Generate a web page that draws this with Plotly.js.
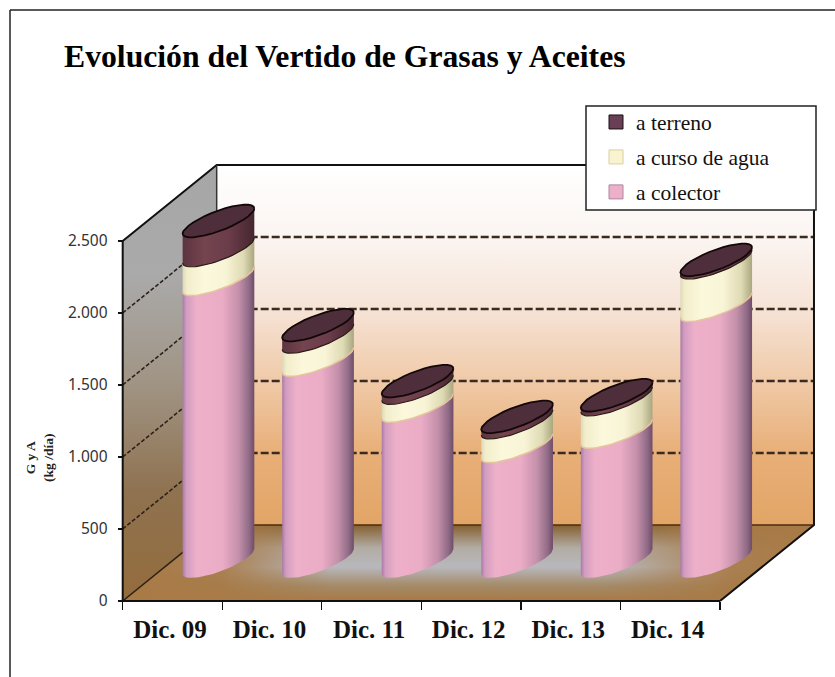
<!DOCTYPE html>
<html>
<head>
<meta charset="utf-8">
<script src="https://cdn.plot.ly/plotly-3.0.1.min.js"></script>
<style>html,body{margin:0;padding:0;background:#fff}#chart{width:835px;height:677px}</style>
</head>
<body>
<div id="chart"></div>
<script>
const categories = ['Dic. 09','Dic. 10','Dic. 11','Dic. 12','Dic. 13','Dic. 14'];
const colector = [1960, 1400, 1080, 800, 900, 1780];
const curso = [200, 160, 125, 165, 225, 295];
const terreno = [205, 82, 48, 40, 30, 20];
const yTicks = [0, 500, 1000, 1500, 2000, 2500];
const seriesNames = ['a terreno', 'a curso de agua', 'a colector'];

const W = 835, H = 677;
const axL = 122.7, axR = 720, axT = 241, axB = 601;
const PX_X = (axR - axL) / categories.length, PX_Y = (axB - axT) / 2500;
const DEPTH_X = 0.944, DEPTH_Y = 528;   // depth vector of the oblique projection, in axis units
const BAR_DX = 0.462, BAR_BASE = 274, RX = 0.36, SHEAR = 87, RY = 73;

const traces = [];
const NOHOVER = {hoverinfo: 'skip', showlegend: false};

function poly(pts, fillgradient, line) {
  const t = Object.assign({
    x: pts.map(p => p[0]), y: pts.map(p => p[1]),
    mode: 'lines', fill: 'toself',
    line: line || {width: 0, color: 'rgba(0,0,0,0)'}
  }, NOHOVER);
  if (typeof fillgradient === 'string') t.fillcolor = fillgradient;
  else t.fillgradient = fillgradient;
  traces.push(t);
}
function seg(pts, line) {
  traces.push(Object.assign({x: pts.map(p => p[0]), y: pts.map(p => p[1]), mode: 'lines', line}, NOHOVER));
}
const P = (x, v, d) => [x + d * DEPTH_X, v + d * DEPTH_Y];
const N = categories.length, TOP = yTicks[yTicks.length - 1];

// ---- walls and floor
poly([P(0,0,1),P(N,0,1),P(N,TOP,1),P(0,TOP,1),P(0,0,1)], {type:'vertical', colorscale:[
  [0,'#e2a566'],[0.2,'#e8af78'],[0.4,'#f0caa8'],[0.6,'#f6e3d6'],[0.8,'#fbf5f2'],[1,'#ffffff']]});
poly([P(0,0,0),P(0,TOP,0),P(0,TOP,1),P(0,0,1),P(0,0,0)], {type:'vertical', colorscale:[
  [0,'#946c3c'],[0.25,'#8f7250'],[0.5,'#a09484'],[0.75,'#aaaaaa'],[1,'#a6a6a6']]});
poly([P(0,0,0),P(N,0,0),P(N,0,1),P(0,0,1),P(0,0,0)], {type:'vertical', colorscale:[
  [0,'#a97a45'],[0.2,'#a48a68'],[0.45,'#b8b8bc'],[0.7,'#b2aca4'],[1,'#84602f']]});
poly([P(0,0,0),P(N,0,0),P(N,0,1),P(0,0,1),P(0,0,0)], {type:'horizontal', colorscale:[
  [0,'rgba(168,122,70,1)'],[0.14,'rgba(168,122,70,0.9)'],[0.3,'rgba(168,122,70,0)'],
  [0.7,'rgba(168,122,70,0)'],[0.88,'rgba(168,122,70,0.9)'],[1,'rgba(168,122,70,1)']]});

// ---- gridlines
yTicks.slice(1, -1).forEach(v => seg([P(0,v,1),P(N,v,1)], {color:'#3a2a20', width:2.5, dash:'8px,3px'}));
yTicks.slice(0, -1).forEach(v => seg([P(0,v,0),P(0,v,1)], {color:'#2c2018', width:1.6, dash: v === 0 ? 'solid' : '4px,2px'}));
seg([P(0,0,1),P(N,0,1)], {color:'#4a2c10', width:1.5});
seg([P(0,TOP,0),P(0,TOP,1),P(N,TOP,1),P(N,0,1),P(N,0,0)], {color:'#111', width:2});
seg([P(0,0,1),P(0,TOP,1)], {color:'#333', width:1.5});
seg([P(0,TOP,0),P(0,0,0),P(N,0,0)], {color:'#111', width:2});

// ---- cylinders
const SHADE_COLECTOR = [[0,'#a979a8'],[0.05,'#d19cc0'],[0.2,'#eeb0c8'],[0.55,'#ebacc6'],[0.78,'#c490aa'],[0.93,'#8f6a86'],[1,'#6f4c68']];
const SHADE_CURSO = [[0,'#ddd8b8'],[0.06,'#f2eecb'],[0.3,'#fbf8dc'],[0.6,'#f8f4d6'],[0.85,'#dedab4'],[1,'#aaa680']];
const SHADE_TERRENO = [[0,'#5c3440'],[0.3,'#74444f'],[0.65,'#6a3c4a'],[1,'#45262f']];

function arc(i, v, t0, t1) {
  const cx = i + 0.5 + BAR_DX, base = BAR_BASE, out = [];
  for (let k = 0; k <= 32; k++) {
    const t = t0 + (t1 - t0) * k / 32;
    out.push([cx + RX * Math.cos(t), base + v + SHEAR * Math.cos(t) + RY * Math.sin(t)]);
  }
  return out;
}
function band(i, lo, hi, scale) {
  const pts = arc(i, lo, Math.PI, 2 * Math.PI).concat(arc(i, hi, 0, Math.PI));
  pts.push(pts[0]);
  poly(pts, {type:'horizontal', colorscale: scale});
}
categories.forEach((c, i) => {
  const a = colector[i], b = a + curso[i], d = b + terreno[i];
  band(i, 0, a, SHADE_COLECTOR);
  band(i, a, b, SHADE_CURSO);
  seg(arc(i, a, Math.PI, 2 * Math.PI), {color:'#e6c49c', width:1.5});
  band(i, b, d, SHADE_TERRENO);
  seg(arc(i, b, Math.PI, 2 * Math.PI), {color:'#2a1a18', width:1.2});
  poly(arc(i, d, 0, 2 * Math.PI), '#4d2e3a', {color:'#120808', width:1.8});
});

// ---- legend entries
[['#6a3f55','#1a1014'],['#f9f3cf','#d8cfa0'],['#eeb0c8','#a888a8']].forEach((s, k) => {
  traces.push({x:[null], y:[null], mode:'markers', name: seriesNames[k], legendgroup: 'g' + k,
    marker:{symbol:'square', size:14, color:s[0], line:{color:s[1], width:1}}, hoverinfo:'skip'});
});

const SERIF = '"Liberation Serif", serif';
const layout = {
  width: W, height: H, autosize: false,
  margin: {l:0, r:0, t:0, b:0, pad:0},
  paper_bgcolor: '#ffffff', plot_bgcolor: 'rgba(0,0,0,0)',
  separators: ',.',
  showlegend: true,
  title: {text: '<b>Evolución del Vertido de Grasas y Aceites</b>', x: 64/W, xanchor: 'left', y: 1 - 56/H, yanchor: 'middle',
    font: {family: SERIF, size: 31.7, color: '#000'}},
  xaxis: {domain: [0, 1], range: [-axL / PX_X, (W - axL) / PX_X], anchor: 'free', position: (H - axB) / H,
    showgrid: false, zeroline: false, showline: false,
    tickmode: 'array', tickvals: categories.map((c, i) => i + 0.475), ticktext: categories, ticks: '', ticklabelstandoff: 11,
    tickfont: {family: SERIF, size: 25, color: '#111', weight: 'bold'},
    minor: {tickmode: 'array', tickvals: categories.map((c, i) => i).concat([N]), ticks: 'outside', ticklen: 8, tickwidth: 1.2, tickcolor: '#111', showgrid: false}},
  yaxis: {domain: [0, 1], range: [-(H - axB) / PX_Y, axB / PX_Y], anchor: 'free', position: axL / W,
    showgrid: false, zeroline: false, showline: false,
    tickmode: 'array', tickvals: yTicks, tickformat: ',d', ticks: 'outside', ticklen: 5, tickwidth: 1.2, tickcolor: '#111', ticklabelstandoff: 7,
    tickfont: {family: '"Noto Sans", sans-serif', size: 15.5, color: '#333'}},
  legend: {x: 596/W, y: 1 - 101.5/H, xanchor: 'left', yanchor: 'top', bgcolor: 'rgba(0,0,0,0)', borderwidth: 0,
    traceorder: 'grouped', tracegroupgap: 4, itemwidth: 30, font: {family: SERIF, size: 21.5, color: '#111'}},
  shapes: [
    {type:'rect', xref:'paper', yref:'paper', x0:586/W, x1:816/W, y0:1-210/H, y1:1-106/H, fillcolor:'#fff', line:{color:'#222', width:1.5}, layer:'above'},
    {type:'line', xref:'paper', yref:'paper', x0:10/W, x1:1, y0:1-10/H, y1:1-10/H, line:{color:'#222', width:1.5}, layer:'above'},
    {type:'line', xref:'paper', yref:'paper', x0:10/W, x1:10/W, y0:0, y1:1-10/H, line:{color:'#222', width:1.5}, layer:'above'}
  ],
  annotations: [
    {text:'<b>G y A<br>(kg /día)</b>', xref:'paper', yref:'paper', x:39/W, y:1-458/H, xanchor:'center', yanchor:'middle', showarrow:false, textangle:-90,
     font:{family: SERIF, size:13.5, color:'#222'}, align:'center'}
  ]
};
Plotly.newPlot('chart', traces, layout, {displayModeBar:false, staticPlot:true});
</script>
</body>
</html>
